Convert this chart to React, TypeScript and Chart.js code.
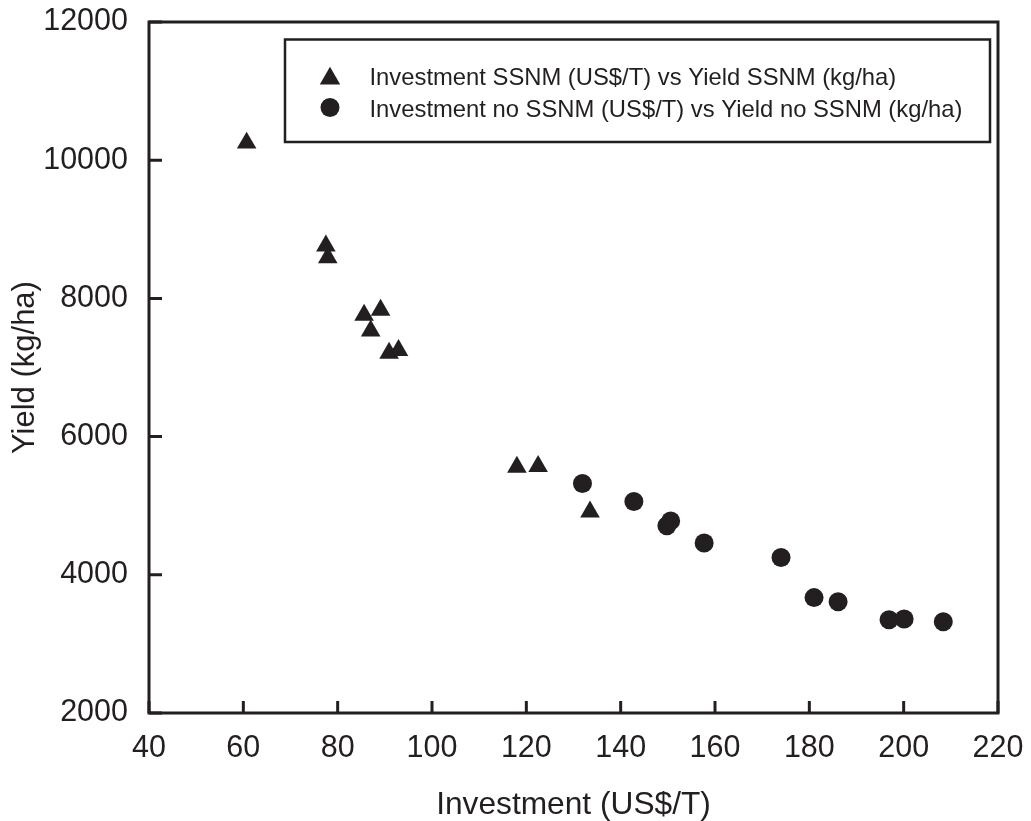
import React, { useEffect, useRef } from "react";
import { Chart, registerables } from "chart.js";
import { drawPoint } from "chart.js/helpers";

Chart.register(...registerables);

// Site-specific nutrient management (SSNM) plots
const investmentSsnm = [60.7, 77.5, 77.9, 85.6, 89.1, 87.0, 90.9, 92.9, 118.0, 122.5, 133.5];
const yieldSsnm = [10250, 8760, 8590, 7760, 7830, 7530, 7210, 7250, 5560, 5570, 4910];

// Conventional plots without SSNM
const investmentNoSsnm = [131.9, 142.8, 149.8, 150.6, 157.7, 174.0, 181.0, 186.1, 196.9, 200.1, 208.4];
const yieldNoSsnm = [5320, 5060, 4710, 4780, 4460, 4250, 3670, 3610, 3350, 3360, 3320];

const seriesLabels = [
  "Investment SSNM (US$/T) vs Yield SSNM (kg/ha)",
  "Investment no SSNM (US$/T) vs Yield no SSNM (kg/ha)",
];
const xAxisTitle = "Investment (US$/T)";
const yAxisTitle = "Yield (kg/ha)";
const xLimits = [40, 220];
const xStep = 20;
const yLimits = [2000, 12000];
const yStep = 2000;

const INK = "#231f20";
const FONT = "'Liberation Sans', Arial, Helvetica, sans-serif";

// Closed frame around the plot with short inward tick marks on bottom and left.
const frameAndTicks = {
  id: "frameAndTicks",
  afterDatasetsDraw(chart: any) {
    const { ctx, chartArea: a, scales } = chart;
    ctx.save();
    ctx.strokeStyle = INK;
    ctx.lineWidth = 3;
    ctx.strokeRect(a.left, a.top, a.right - a.left, a.bottom - a.top);
    ctx.beginPath();
    scales.x.ticks.forEach((t: any) => {
      const px = scales.x.getPixelForValue(t.value);
      ctx.moveTo(px, a.bottom);
      ctx.lineTo(px, a.bottom - 12);
    });
    scales.y.ticks.forEach((t: any) => {
      const py = scales.y.getPixelForValue(t.value);
      ctx.moveTo(a.left, py);
      ctx.lineTo(a.left + 13, py);
    });
    ctx.stroke();
    ctx.restore();
  },
};

// Boxed legend inside the upper right of the plot area.
const boxedLegend = {
  id: "boxedLegend",
  afterDraw(chart: any) {
    const { ctx, chartArea: a } = chart;
    const left = a.left + 136;
    const top = a.top + 17.5;
    const right = a.right - 8;
    const bottom = a.top + 120;
    ctx.save();
    ctx.fillStyle = "#ffffff";
    ctx.fillRect(left, top, right - left, bottom - top);
    ctx.strokeStyle = INK;
    ctx.lineWidth = 2.5;
    ctx.strokeRect(left, top, right - left, bottom - top);
    ctx.font = `23.8px ${FONT}`;
    ctx.textAlign = "left";
    ctx.textBaseline = "alphabetic";
    chart.data.datasets.forEach((ds: any, i: number) => {
      const rowY = top + 37.2 + i * 31.6;
      const isTriangle = ds.pointStyle === "triangle";
      const r = isTriangle ? 11.8 : 9.5;
      ctx.fillStyle = INK;
      drawPoint(
        ctx,
        { pointStyle: ds.pointStyle, radius: r, rotation: 0, borderWidth: 0 } as any,
        left + 45,
        isTriangle ? rowY + 1.8 : rowY - 0.8
      );
      ctx.fillStyle = INK;
      ctx.fillText(ds.label, left + 84.5, rowY + 8.3);
    });
    ctx.restore();
  },
};

export default function App() {
  const canvasRef = useRef<HTMLCanvasElement | null>(null);

  useEffect(() => {
    const canvas = canvasRef.current;
    if (!canvas) return;
    const chart = new Chart(canvas, {
      type: "scatter",
      data: {
        datasets: [
          {
            label: seriesLabels[0],
            data: investmentSsnm.map((x, i) => ({ x, y: yieldSsnm[i] })),
            pointStyle: "triangle",
            pointRadius: 11.3,
            pointHoverRadius: 11.3,
            backgroundColor: INK,
            borderWidth: 0,
          },
          {
            label: seriesLabels[1],
            data: investmentNoSsnm.map((x, i) => ({ x, y: yieldNoSsnm[i] })),
            pointStyle: "circle",
            pointRadius: 9.5,
            pointHoverRadius: 9.5,
            backgroundColor: INK,
            borderWidth: 0,
          },
        ],
      },
      options: {
        animation: false,
        responsive: false,
        devicePixelRatio: 1,
        events: [],
        layout: { padding: { top: 22, right: 33, left: 0, bottom: 0 } },
        plugins: {
          legend: { display: false },
          tooltip: { enabled: false },
        },
        scales: {
          x: {
            type: "linear",
            min: xLimits[0],
            max: xLimits[1],
            afterFit(scale: any) {
              scale.height = 108;
              scale.paddingLeft = 0;
              scale.paddingRight = 0;
            },
            ticks: {
              stepSize: xStep,
              padding: 17,
              color: INK,
              font: { family: FONT, size: 30.5 },
              callback: (v: any) => String(v),
              maxRotation: 0,
            },
            grid: { display: false, drawTicks: false },
            border: { display: false },
            title: {
              display: true,
              text: xAxisTitle,
              color: INK,
              font: { family: FONT, size: 31.7, lineHeight: 1 },
              padding: { top: 0, bottom: 0 },
            },
          },
          y: {
            type: "linear",
            min: yLimits[0],
            max: yLimits[1],
            afterFit(scale: any) {
              scale.width = 149;
              scale.paddingTop = 0;
              scale.paddingBottom = 0;
            },
            ticks: {
              stepSize: yStep,
              padding: 21,
              color: INK,
              font: { family: FONT, size: 30.5 },
              callback: (v: any) => String(v),
            },
            grid: { display: false, drawTicks: false },
            border: { display: false },
            title: {
              display: true,
              text: yAxisTitle,
              color: INK,
              font: { family: FONT, size: 31, lineHeight: 1 },
              padding: { top: 10.3, bottom: 0 },
            },
          },
        },
      },
      plugins: [frameAndTicks, boxedLegend],
    });
    return () => chart.destroy();
  }, []);

  return (
    <div style={{ position: "absolute", left: 0, top: 0, width: 1031, height: 821, background: "#ffffff" }}>
      <canvas ref={canvasRef} width={1031} height={821} style={{ display: "block" }} />
    </div>
  );
}
